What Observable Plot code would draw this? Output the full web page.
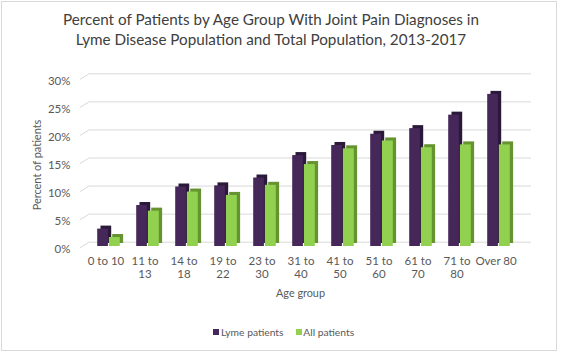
<!DOCTYPE html>
<html><head><meta charset="utf-8">
<script src="https://cdn.jsdelivr.net/npm/d3@7"></script>
<script src="https://cdn.jsdelivr.net/npm/@observablehq/plot@0.6"></script>
<style>
body{margin:0;background:#fff}
#wrap{position:relative;width:561px;height:353px;overflow:hidden;font-family:Lato,'Open Sans',sans-serif;background:#fff}
#border{position:absolute;left:1px;top:1px;width:554px;height:348px;border:1px solid #d9d9d9;box-sizing:content-box}
.t{position:absolute;white-space:nowrap;line-height:1;transform:translate(-50%,-50%)}
.sw{position:absolute;width:6px;height:6px}
.lg{position:absolute;white-space:nowrap;line-height:1;transform:translateY(-50%);color:#595959}
#chart{position:absolute;left:0;top:0}
</style></head>
<body><div id="wrap"><div id="border"></div><div id="chart"></div></div>
<script>
const categories = ["0 to 10","11 to 13","14 to 18","19 to 22","23 to 30","31 to 40","41 to 50","51 to 60","61 to 70","71 to 80","Over 80"];
const lyme = [3.1, 7.3, 10.6, 10.8, 12.2, 16.2, 18.0, 20.0, 21.0, 23.4, 27.1];
const allPatients = [1.6, 6.3, 9.7, 9.1, 10.9, 14.6, 17.4, 18.8, 17.6, 18.1, 18.1];
const yTicks = [0, 5, 10, 15, 20, 25, 30];
const seriesNames = ["Lyme patients", "All patients"];
const titleLines = ["Percent of Patients by Age Group With Joint Pain Diagnoses in", "Lyme Disease Population and Total Population, 2013-2017"];
const xTitle = "Age group";
const yTitle = "Percent of patients";

const FONT = "Lato, 'Open Sans', sans-serif";
const colors = {lymeFront: "#45275a", lymeSide: "#2b1939", allFront: "#92d050", allSide: "#64932f"};

const data = categories.map((c, i) => ({cat: c, lyme: lyme[i], all: allPatients[i]}));

const ctx = document.createElement("canvas").getContext("2d");
function fitSize(text, target, base) {
  ctx.font = `${base}px Lato`;
  return base * target / ctx.measureText(text).width;
}

const plot = Plot.plot({
  width: 561, height: 353,
  marginLeft: 80.8, marginRight: 40.2, marginTop: 73.3, marginBottom: 111.3,
  x: {type: "band", domain: categories, padding: 0, axis: null},
  y: {domain: [0, 30], axis: null},
  style: {fontFamily: FONT, background: "transparent", overflow: "visible"},
  marks: [
    Plot.ruleY(yTicks, {stroke: "#d9d9d9", strokeWidth: 1, insetLeft: 9.2, insetRight: -10.2}),
    Plot.text(yTicks, {y: d => d, text: d => d + "%", frameAnchor: "left", textAnchor: "end", dx: -10.8, dy: 7.5, fontSize: 11.5, fill: "#595959"}),
    Plot.text(categories, {x: d => d, text: d => d.length > 7 ? d.replace(" to ", " to\n") : d, frameAnchor: "bottom", lineAnchor: "top", dy: 14, fontSize: 11.5, lineHeight: 1.1, fill: "#595959"}),
    Plot.barY(data, {x: "cat", y: "lyme", fill: colors.lymeSide, insetLeft: 11.2, insetRight: 17.1, dx: 3.3, dy: 1.3}),
    Plot.barY(data, {x: "cat", y: "lyme", fill: colors.lymeFront, insetLeft: 11.2, insetRight: 17.1, dy: 4.3}),
    Plot.barY(data, {x: "cat", y: "all", fill: colors.allSide, insetLeft: 22.9, insetRight: 5.2, dx: 3.3, dy: 1.3}),
    Plot.barY(data, {x: "cat", y: "all", fill: colors.allFront, insetLeft: 22.9, insetRight: 5.2, dy: 4.3})
  ]
});
document.getElementById("chart").appendChild(plot);

// left-wall diagonal edges of the gridlines
const ys = plot.scale("y");
const yScale = d3.scaleLinear(ys.domain, ys.range);
const left = 80.8;
d3.select(plot).insert("g", ":nth-child(2)")
  .attr("stroke", "#d9d9d9").attr("stroke-width", 1)
  .selectAll("line").data(yTicks).join("line")
  .attr("x1", left - 0.8).attr("x2", left + 9.2)
  .attr("y1", d => yScale(d) + 6).attr("y2", d => yScale(d));

const wrap = document.getElementById("wrap");
function addText(text, cx, cy, size, color, extra) {
  const el = document.createElement("div");
  el.className = "t";
  el.textContent = text;
  el.style.left = cx + "px"; el.style.top = cy + "px";
  el.style.fontSize = size + "px"; el.style.color = color;
  if (extra) el.style.transform = extra;
  wrap.appendChild(el);
  return el;
}
const ts = fitSize(titleLines[0], 418, 17);
addText(titleLines[0], 271, 20, ts, "#404040");
addText(titleLines[1], 271, 40, ts, "#404040");
addText(xTitle, 300.5, 293.3, fitSize(xTitle, 49, 12), "#595959");
addText(yTitle, 37, 164.5, fitSize(yTitle, 91, 11), "#595959", "translate(-50%,-50%) rotate(-90deg)");

// legend
const lgSize = fitSize(seriesNames[0], 62.6, 11);
const legendItems = [
  {name: seriesNames[0], color: colors.lymeFront, sx: 213, tx: 221},
  {name: seriesNames[1], color: colors.allFront, sx: 295.5, tx: 303.3}
];
legendItems.forEach(it => {
  const sq = document.createElement("div");
  sq.className = "sw"; sq.style.left = it.sx + "px"; sq.style.top = "329px"; sq.style.background = it.color;
  wrap.appendChild(sq);
  const t = document.createElement("div");
  t.className = "lg"; t.textContent = it.name; t.style.left = it.tx + "px"; t.style.top = "332px"; t.style.fontSize = lgSize + "px";
  wrap.appendChild(t);
});
</script>
</body></html>
